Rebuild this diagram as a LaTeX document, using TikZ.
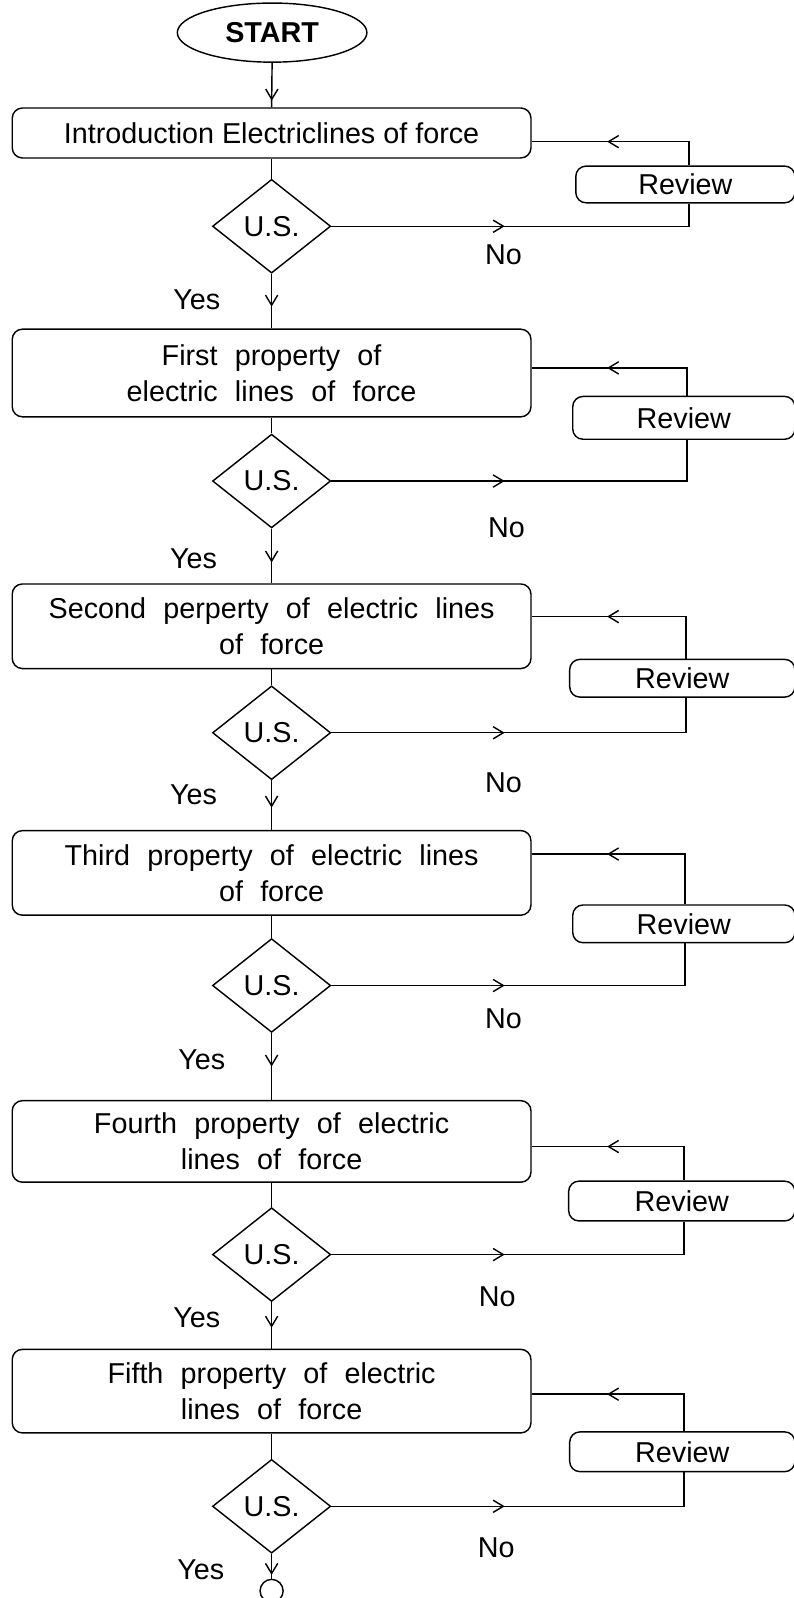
\documentclass[tikz,border=0pt]{standalone}
\usepackage{fontspec}
\setmainfont{Liberation Sans}
\usetikzlibrary{shapes.geometric,arrows.meta,decorations.markings}
\newcommand{\widesp}{\spaceskip=0.6em\relax}
\begin{document}
\begin{tikzpicture}[x=1pt,y=-1pt,line width=1.4pt,
  font=\fontsize{28.2}{35}\selectfont,
  box/.style={draw, rounded corners=10pt, minimum width=509pt, align=center, inner sep=0pt},
  wbox/.style={box, font=\fontsize{28.2}{35}\selectfont\widesp},
  dia/.style={draw, diamond, minimum width=116pt, minimum height=92pt, inner sep=0pt},
  rev/.style={draw, rounded corners=10pt, inner sep=0pt},
  lbl/.style={inner sep=0pt},
  tipat/.style={postaction={decorate}, decoration={markings, mark=at position #1 with {\arrow{Straight Barb[length=10pt,width=12pt]}}}}
]
\useasboundingbox (0,0) rectangle (779,1568);
\fill[white] (0,0) rectangle (779,1568);

% main column
\node[draw, ellipse, minimum width=186pt, minimum height=58pt, inner sep=0pt, font=\fontsize{28.2}{35}\selectfont\bfseries] (st) at (267,32) {START};
\node[box, minimum height=49pt] (b1) at (266.5,130.5) {Introduction Electriclines of force};
\node[dia] (d1) at (266.5,222) {U.S.};
\node[wbox, minimum height=86pt] (b2) at (266.5,366) {First property of\\electric lines of force};
\node[dia] (d2) at (266.5,472) {U.S.};
\node[wbox, minimum height=83pt] (b3) at (266.5,614.5) {Second perperty of electric lines\\of force};
\node[dia] (d3) at (266.5,719) {U.S.};
\node[wbox, minimum height=83pt] (b4) at (266.5,856.5) {Third property of electric lines\\of force};
\node[dia] (d4) at (266.5,967) {U.S.};
\node[wbox, minimum height=80pt] (b5) at (266.5,1120) {Fourth property of electric\\lines of force};
\node[dia] (d5) at (266.5,1231) {U.S.};
\node[wbox, minimum height=82pt] (b6) at (266.5,1365) {Fifth property of electric\\lines of force};
\node[dia] (d6) at (266.5,1478) {U.S.};
\node[draw, circle, minimum size=22.6pt, inner sep=0pt] (en) at (266.5,1561) {};

% review boxes
\node[rev, minimum width=215pt, minimum height=36pt] (r1) at (672.5,181) {Review};
\node[rev, minimum width=218pt, minimum height=42pt] (r2) at (671,410) {Review};
\node[rev, minimum width=221pt, minimum height=37pt] (r3) at (669.5,665.5) {Review};
\node[rev, minimum width=218pt, minimum height=37pt] (r4) at (671,906.5) {Review};
\node[rev, minimum width=222pt, minimum height=39pt] (r5) at (669,1178.5) {Review};
\node[rev, minimum width=221pt, minimum height=39pt] (r6) at (669.5,1424.5) {Review};

% feedback corners
\coordinate (f1) at (676,139);
\coordinate (f2) at (674,361);
\coordinate (f3) at (673,605);
\coordinate (f4) at (672,838);
\coordinate (f5) at (671,1125);
\coordinate (f6) at (671,1368);

% vertical flow
\draw[tipat=0.85] (st.south) -- (b1.north);
\draw (b1.south) -- (d1.north);
\draw[tipat=0.6] (d1.south) -- (b2.north);
\draw (b2.south) -- (d2.north);
\draw[tipat=0.62] (d2.south) -- (b3.north);
\draw (b3.south) -- (d3.north);
\draw[tipat=0.55] (d3.south) -- (b4.north);
\draw (b4.south) -- (d4.north);
\draw[tipat=0.5] (d4.south) -- (b5.north);
\draw (b5.south) -- (d5.north);
\draw[tipat=0.55] (d5.south) -- (b6.north);
\draw (b6.south) -- (d6.north);
\draw[tipat=0.85] (d6.south) -- (en.north);

% No loops
\foreach \i in {1,...,6}{
  \draw[tipat=170pt] (d\i.east) -- (d\i.east -| f\i) -- (r\i.south -| f\i);
  \draw[tipat=-74pt] (r\i.north -| f\i) -- (f\i) -- (b\i.east |- f\i);
}

% labels
\node[lbl] (y1) at (193,294) {Yes};
\node[lbl] (y2) at (190,548) {Yes};
\node[lbl] (y3) at (190,780) {Yes};
\node[lbl] (y4) at (198,1040) {Yes};
\node[lbl] (y5) at (193,1293) {Yes};
\node[lbl] (y6) at (197,1540) {Yes};
\node[lbl] (n1) at (494,250) {No};
\node[lbl] (n2) at (497,518) {No};
\node[lbl] (n3) at (494,768) {No};
\node[lbl] (n4) at (494,1000) {No};
\node[lbl] (n5) at (488,1272) {No};
\node[lbl] (n6) at (487,1519) {No};
\end{tikzpicture}
\end{document}
